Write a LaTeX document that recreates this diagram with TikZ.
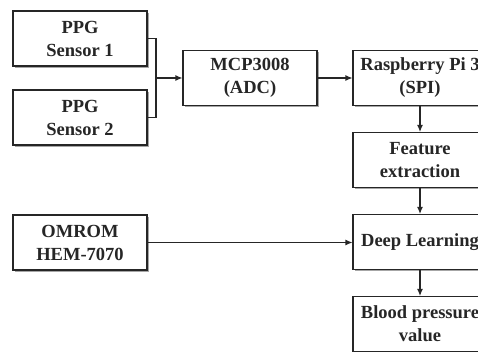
\documentclass[tikz,border=0pt]{standalone}
\usepackage{fontspec}
\setmainfont{Liberation Serif}
\usetikzlibrary{arrows.meta,shadows}
\definecolor{ink}{HTML}{262626}
\begin{document}
\begin{tikzpicture}[x=1pt,y=-1pt,
  box/.style={draw=ink, line width=1.1pt, fill=white, minimum width=134pt, minimum height=55pt,
    inner sep=0pt, align=center, text=ink,
    font=\fontsize{18.5}{23}\selectfont\bfseries,
    drop shadow={shadow xshift=1.6pt, shadow yshift=-1.6pt, fill=black!35, opacity=1}},
  conn/.style={draw=ink, line width=1.1pt},
  arr/.style={conn, -{Latex[length=7pt,width=6pt]}}]
\useasboundingbox (0,0) rectangle (478,352);
\clip (0,0) rectangle (478,352);
\node[box] (s1) at (80,38.5) {PPG\\Sensor 1};
\node[box] (s2) at (80,117.5) {PPG\\Sensor 2};
\node[box] (om) at (80,242.5) {OMROM\\HEM-7070};
\node[box] (mcp) at (250,78) {MCP3008\\(ADC)};
\node[box] (rp) at (420,78) {Raspberry Pi 3\\(SPI)};
\node[box] (fe) at (420,160) {Feature\\extraction};
\node[box] (dl) at (420,242) {Deep Learning};
\node[box] (bp) at (420,324) {Blood pressure\\value};
\coordinate (j) at (156,78);
\draw[conn] (s1.east) -| (j);
\draw[conn] (s2.east) -| (j);
\draw[arr] (j) -- (mcp.west);
\draw[arr] (mcp.east) -- (rp.west);
\draw[arr] (rp.south) -- (fe.north);
\draw[arr] (fe.south) -- (dl.north);
\draw[arr] (om.east) -- (om.east -| dl.west);
\draw[arr] (dl.south) -- (bp.north);
\end{tikzpicture}
\end{document}
